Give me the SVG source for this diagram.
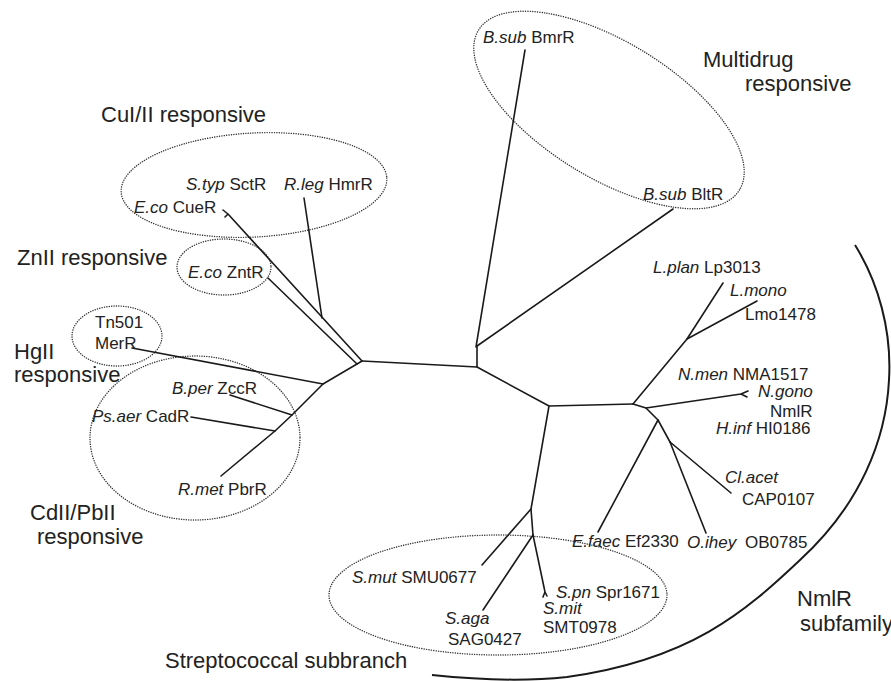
<svg xmlns="http://www.w3.org/2000/svg" width="891" height="681" viewBox="0 0 891 681">
<style>
text{font-family:"Liberation Sans",Arial,sans-serif;fill:#222}
.leaf{font-size:17px}
.cat{font-size:22px}
.i{font-style:italic}
.dot{fill:none;stroke:#333;stroke-width:1.4;stroke-dasharray:0.1 2.3;stroke-linecap:round}
.br{fill:none;stroke:#1a1a1a;stroke-width:1.6;stroke-linecap:round;stroke-linejoin:round}
.arc{fill:none;stroke:#1a1a1a;stroke-width:2}
</style>
<rect width="891" height="681" fill="#fff"/>

<g id="groups">
  <g id="cu-group"><ellipse class="dot" cx="254" cy="185" rx="133" ry="52" transform="rotate(-3 254 185)"/><text class="cat" x="101" y="122">CuI/II responsive</text></g>
  <g id="zn-group"><ellipse class="dot" cx="224" cy="267" rx="47" ry="28"/><text class="cat" x="17" y="265">ZnII responsive</text></g>
  <g id="hg-group"><ellipse class="dot" cx="117" cy="336" rx="45" ry="30"/><text class="cat" x="14" y="359">HgII</text><text class="cat" x="14" y="382">responsive</text></g>
  <g id="cd-group"><ellipse class="dot" cx="195" cy="438" rx="105" ry="82"/><text class="cat" x="30" y="520">CdII/PbII</text><text class="cat" x="37" y="544">responsive</text></g>
  <g id="multidrug-group"><ellipse class="dot" cx="609" cy="110" rx="153" ry="68" transform="rotate(31.5 609 110)"/><text class="cat" x="703" y="67">Multidrug</text><text class="cat" x="745" y="91">responsive</text></g>
  <g id="strep-group"><ellipse class="dot" cx="498" cy="595" rx="169" ry="60"/><text class="cat" x="165" y="668">Streptococcal subbranch</text></g>
  <g id="nmlr-group"><path class="arc" d="M855,245 C878,282 892,330 889,380 C886,440 860,505 800,560 C745,612 690,660 567,677 C520,682 470,679 432,675"/><text class="cat" x="797" y="606">NmlR</text><text class="cat" x="800" y="631">subfamily</text></g>
</g>

<g id="connectors">
  <path class="br" d="M362,361 L477,367 L477,346"/>
  <path class="br" d="M476,347 L525,50"/>
  <path class="br" d="M477,346 L673,209"/>
  <path class="br" d="M477,367 L549,406 L633,404"/>
  <path class="br" d="M549,406 L531,509 L533,535"/>
  <path class="br" d="M531,509 L482,565"/>
  <path class="br" d="M533,535 L483,610"/>
  <path class="br" d="M533,535 L545,592 M545,592 L543,597 M545,592 L547,596"/>
  <path class="br" d="M633,404 L687,339 L723,283"/>
  <path class="br" d="M687,339 L757,301"/>
  <path class="br" d="M633,404 L646,408 L658,420 L670,442"/>
  <path class="br" d="M646,408 L741,394 M741,394 L748,391 M741,394 L747,397"/>
  <path class="br" d="M658,420 L598,532"/>
  <path class="br" d="M670,442 L731,493"/>
  <path class="br" d="M670,442 L706,533"/>
  <path class="br" d="M362,361 L228,214 M228,214 L223,210 M228,214 L225,217"/>
  <path class="br" d="M322,318 L304,198"/>
  <path class="br" d="M362,361 L357,364 L268,278"/>
  <path class="br" d="M357,364 L323,384 L132,348"/>
  <path class="br" d="M323,384 L292,415 L230,395"/>
  <path class="br" d="M292,415 L275,431 L191,417"/>
  <path class="br" d="M275,431 L221,476"/>
</g>

<g id="leaves">
  <g id="n-cueR"><text class="leaf" x="134" y="213"><tspan class="i">E.co</tspan> CueR</text></g>
  <g id="n-sctR"><text class="leaf" x="186" y="190"><tspan class="i">S.typ</tspan> SctR</text></g>
  <g id="n-hmrR"><text class="leaf" x="284" y="190"><tspan class="i">R.leg</tspan> HmrR</text></g>
  <g id="n-zntR"><text class="leaf" x="188" y="278"><tspan class="i">E.co</tspan> ZntR</text></g>
  <g id="n-merR"><text class="leaf" x="95" y="328">Tn501</text><text class="leaf" x="95" y="349">MerR</text></g>
  <g id="n-zccR"><text class="leaf" x="172" y="394"><tspan class="i">B.per</tspan> ZccR</text></g>
  <g id="n-cadR"><text class="leaf" x="92" y="422"><tspan class="i">Ps.aer</tspan> CadR</text></g>
  <g id="n-pbrR"><text class="leaf" x="178" y="495"><tspan class="i">R.met</tspan> PbrR</text></g>
  <g id="n-bmrR"><text class="leaf" x="483" y="43"><tspan class="i">B.sub</tspan> BmrR</text></g>
  <g id="n-bltR"><text class="leaf" x="643" y="200"><tspan class="i">B.sub</tspan> BltR</text></g>
  <g id="n-lp3013"><text class="leaf" x="653" y="273"><tspan class="i">L.plan</tspan> Lp3013</text></g>
  <g id="n-lmo1478"><text class="leaf i" x="730" y="296">L.mono</text><text class="leaf" x="745" y="320">Lmo1478</text></g>
  <g id="n-nma1517"><text class="leaf" x="678" y="380"><tspan class="i">N.men</tspan> NMA1517</text></g>
  <g id="n-nmlR"><text class="leaf i" x="758" y="397">N.gono</text><text class="leaf" x="770" y="417">NmlR</text></g>
  <g id="n-hi0186"><text class="leaf" x="716" y="434"><tspan class="i">H.inf</tspan> HI0186</text></g>
  <g id="n-cap0107"><text class="leaf i" x="725" y="483">Cl.acet</text><text class="leaf" x="742" y="505">CAP0107</text></g>
  <g id="n-ef2330"><text class="leaf" x="572" y="547"><tspan class="i">E.faec</tspan> Ef2330</text></g>
  <g id="n-ob0785"><text class="leaf i" x="687" y="548">O.ihey</text><text class="leaf" x="745" y="548">OB0785</text></g>
  <g id="n-smu0677"><text class="leaf" x="352" y="583"><tspan class="i">S.mut</tspan> SMU0677</text></g>
  <g id="n-sag0427"><text class="leaf i" x="445" y="624">S.aga</text><text class="leaf" x="448" y="645">SAG0427</text></g>
  <g id="n-spr1671"><text class="leaf" x="556" y="598"><tspan class="i">S.pn</tspan> Spr1671</text></g>
  <g id="n-smt0978"><text class="leaf i" x="543" y="614">S.mit</text><text class="leaf" x="543" y="633">SMT0978</text></g>
</g>
</svg>
